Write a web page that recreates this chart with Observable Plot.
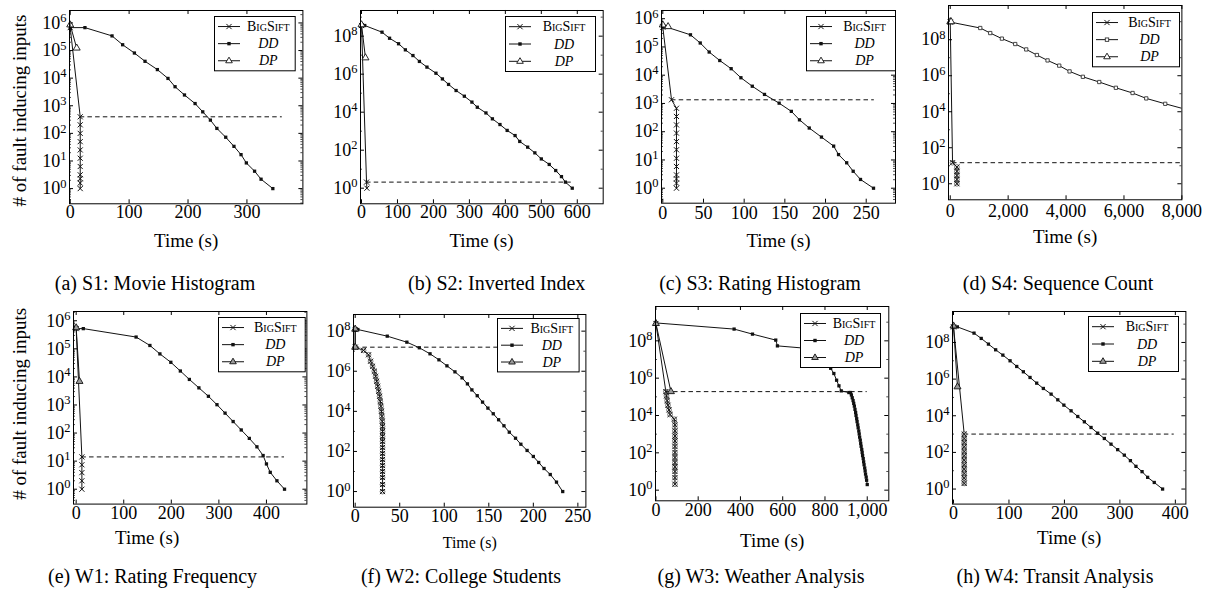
<!DOCTYPE html>
<html><head><meta charset="utf-8">
<script src="https://cdn.jsdelivr.net/npm/d3@7"></script>
<script src="https://cdn.jsdelivr.net/npm/@observablehq/plot@0.6"></script>
<style>
body{margin:0;background:#fff;}
#root{position:relative;width:1210px;height:598px;overflow:hidden;font-family:"Liberation Serif","Times New Roman","DejaVu Serif",serif;color:#000;background:#fff;}
.cap{position:absolute;transform:translate(-50%,-50%);white-space:nowrap;font-size:20px;line-height:1;}
</style></head><body><div id="root"></div>
<script>
// ---------- DATA (time in s, values as log10 of # fault inducing inputs) ----------
// (a) S1: Movie Histogram
const S1_DD_time = [0, 25, 71, 89, 109, 127, 148, 166, 178, 194, 212, 225, 238, 249, 264, 278, 290, 299, 313, 324, 344];
const S1_DD_log10 = [5.83, 5.83, 5.53, 5.21, 4.91, 4.61, 4.31, 3.99, 3.69, 3.39, 3.08, 2.78, 2.48, 2.18, 1.86, 1.53, 1.23, 0.93, 0.63, 0.34, 0.0];
const S1_BS_time = [0, 17, 17, 17, 17, 17, 17, 17, 17, 17, 17, 17];
const S1_BS_log10 = [5.83, 2.6, 2.31, 2.0, 1.7, 1.4, 1.1, 0.8, 0.5, 0.36, 0.2, 0.0];
const S1_DP_time = [0, 11];
const S1_DP_log10 = [5.93, 5.09];
const S1_REF = [17, 360, 2.6];

// (b) S2: Inverted Index
const S2_DD_time = [0, 9, 57, 78, 103, 122, 143, 161, 182, 207, 225, 242, 263, 286, 307, 322, 346, 364, 385, 405, 427, 440, 462, 482, 500, 522, 540, 556, 567, 586];
const S2_DD_log10 = [8.56, 8.56, 8.21, 7.89, 7.60, 7.28, 6.98, 6.67, 6.37, 6.05, 5.75, 5.46, 5.14, 4.84, 4.53, 4.26, 3.96, 3.65, 3.35, 3.04, 2.77, 2.46, 2.16, 1.86, 1.54, 1.25, 0.93, 0.61, 0.32, 0.0];
const S2_BS_time = [0, 14, 15];
const S2_BS_log10 = [8.56, 0.32, 0.0];
const S2_DP_time = [0, 11];
const S2_DP_log10 = [8.6, 6.86];
const S2_REF = [14, 584, 0.32];

// (c) S3: Rating Histogram
const S3_DD_time = [0, 5, 34, 46, 57, 70, 84, 96, 110, 125, 143, 158, 168, 180, 195, 210, 216, 226, 234, 243, 259];
const S3_DD_log10 = [5.70, 5.70, 5.43, 5.14, 4.82, 4.52, 4.23, 3.91, 3.61, 3.32, 3.01, 2.72, 2.42, 2.13, 1.81, 1.49, 1.19, 0.90, 0.60, 0.31, 0.0];
const S3_BS_time = [0, 10.7, 16.8, 16.8, 16.8, 16.8, 16.8, 16.8, 16.8, 16.8, 16.8, 16.8, 16.8, 16.8];
const S3_BS_log10 = [5.70, 3.13, 2.83, 2.54, 2.24, 1.95, 1.65, 1.36, 1.06, 0.77, 0.47, 0.33, 0.18, 0.0];
const S3_DP_time = [0, 6.5];
const S3_DP_log10 = [5.78, 5.72];
const S3_REF = [10.7, 260, 3.13];

// (d) S4: Sequence Count
const S4_DD_time = [0, 1036, 1381, 1784, 2244, 2624, 2993, 3361, 3764, 4121, 4581, 5146, 5721, 6297, 6769, 7425, 8300];
const S4_DD_log10 = [8.98, 8.65, 8.37, 8.06, 7.76, 7.46, 7.15, 6.85, 6.56, 6.24, 5.94, 5.65, 5.33, 5.04, 4.74, 4.44, 4.06];
const S4_BS_time = [0, 80, 230, 230, 230, 230, 230];
const S4_BS_log10 = [8.98, 1.17, 0.93, 0.69, 0.46, 0.24, 0.0];
const S4_DP_time = [0, 30];
const S4_DP_log10 = [9.0, 9.0];
const S4_REF = [80, 8000, 1.17];

// (e) W1: Rating Frequency
const W1_DD_time = [0, 15, 126, 155, 176, 199, 219, 238, 258, 278, 296, 313, 330, 347, 364, 380, 393, 400, 408, 422, 438];
const W1_DD_log10 = [5.72, 5.72, 5.42, 5.12, 4.82, 4.52, 4.21, 3.91, 3.61, 3.31, 3.01, 2.71, 2.41, 2.11, 1.81, 1.51, 1.20, 0.90, 0.60, 0.30, 0.0];
const W1_BS_time = [0, 12, 12, 12, 12, 12];
const W1_BS_log10 = [5.72, 1.15, 0.87, 0.59, 0.30, 0.0];
const W1_DP_time = [0, 7];
const W1_DP_log10 = [5.75, 3.84];
const W1_REF = [12, 438, 1.15];

// (f) W2: College Students
const W2_DD_time = [0, 3, 36, 58, 72, 84, 94, 103, 112, 120, 126, 131, 137, 143, 149, 155, 161, 167, 173, 180, 186, 193, 200, 206, 212, 219, 226, 233];
const W2_DD_log10 = [8.08, 8.08, 7.75, 7.45, 7.17, 6.87, 6.57, 6.27, 5.97, 5.67, 5.37, 5.07, 4.78, 4.46, 4.16, 3.88, 3.58, 3.28, 2.96, 2.66, 2.36, 2.05, 1.75, 1.45, 1.15, 0.85, 0.47, 0.0];
const W2_BS_time = [0, 0, 9.4, 15, 17.3, 19.5, 21.5, 22.9, 24.1, 25.3, 26.4, 27.4, 28.2, 28.9, 29.5, 30, 30.4, 30.7, 30.7, 30.7, 30.7, 30.7, 30.7, 30.7, 30.7, 30.7, 30.7, 30.7, 30.7];
const W2_BS_log10 = [8.08, 7.2, 7.04, 6.82, 6.5, 6.25, 6.0, 5.75, 5.5, 5.25, 5.0, 4.75, 4.5, 4.25, 4.0, 3.75, 3.5, 3.25, 3.0, 2.75, 2.5, 2.2, 1.9, 1.6, 1.3, 1.0, 0.7, 0.35, 0.0];
const W2_DP_time = [0, 0];
const W2_DP_log10 = [8.1, 7.2];
const W2_REF = [0, 251, 7.2];

// (g) W3: Weather Analysis
const W3_DD_time = [0, 370, 457, 567, 575, 690, 800, 827, 842, 855, 866, 877, 913, 921, 925, 929, 933, 936, 939, 942, 945, 947, 950, 952, 955, 957, 960, 962, 964, 967, 969, 971, 974, 976, 978, 981, 983, 985, 988, 990, 992, 995, 997, 1000];
const W3_DD_log10 = [8.96, 8.63, 8.36, 8.04, 7.73, 7.62, 7.2, 6.53, 6.25, 5.89, 5.59, 5.32, 5.23, 5.23, 5.1, 4.95, 4.8, 4.65, 4.5, 4.33, 4.16, 4.0, 3.83, 3.67, 3.5, 3.34, 3.17, 3.01, 2.84, 2.68, 2.51, 2.35, 2.18, 2.02, 1.85, 1.69, 1.52, 1.36, 1.19, 1.03, 0.86, 0.7, 0.53, 0.3];
const W3_BS_time = [0, 47, 50, 53, 57, 62, 67, 87, 90, 90, 90, 90, 90, 90, 90, 90, 90, 90, 90, 90];
const W3_BS_log10 = [8.93, 5.28, 5.05, 4.8, 4.55, 4.3, 4.05, 3.8, 3.5, 3.18, 2.9, 2.64, 2.34, 2.02, 1.75, 1.48, 1.25, 1.0, 0.67, 0.32];
const W3_DP_time = [0, 71];
const W3_DP_log10 = [8.93, 5.28];
const W3_REF = [47, 1000, 5.28];

// (h) W4: Transit Analysis
const W4_DD_time = [0, 7, 37, 50, 63, 76, 89, 102, 114, 126, 138, 150, 162, 176, 188, 199, 212, 224, 236, 248, 260, 272, 284, 296, 308, 319, 329, 340, 350, 362, 377];
const W4_DD_log10 = [8.85, 8.85, 8.51, 8.22, 7.91, 7.60, 7.31, 7.00, 6.69, 6.40, 6.09, 5.78, 5.49, 5.18, 4.87, 4.58, 4.27, 3.96, 3.67, 3.36, 3.05, 2.76, 2.45, 2.15, 1.85, 1.55, 1.24, 0.95, 0.64, 0.36, 0.0];
const W4_BS_time = [0, 19.3, 19.3, 19.3, 19.3, 19.3, 19.3, 19.3, 19.3, 19.3, 19.3, 19.3, 19.3];
const W4_BS_log10 = [8.85, 3.0, 2.76, 2.54, 2.31, 2.05, 1.82, 1.58, 1.33, 1.09, 0.85, 0.6, 0.31];
const W4_DP_time = [0, 7.2];
const W4_DP_log10 = [8.9, 5.58];
const W4_REF = [19.3, 398, 3.0];

// tick values
const TICKS_S1_X = [0, 100, 200, 300];
const TICKS_S2_X = [0, 100, 200, 300, 400, 500, 600];
const TICKS_S3_X = [0, 50, 100, 150, 200, 250];
const TICKS_S4_X = [0, 2000, 4000, 6000, 8000];
const TICKS_W1_X = [0, 100, 200, 300, 400];
const TICKS_W2_X = [0, 50, 100, 150, 200, 250];
const TICKS_W3_X = [0, 200, 400, 600, 800, 1000];
const TICKS_W4_X = [0, 100, 200, 300, 400];
const TICKS_Y_DEC = [0, 1, 2, 3, 4, 5, 6];
const TICKS_Y_EVEN = [0, 2, 4, 6, 8];

const SERIES_NAMES = ["BigSift", "DD", "DP"];
const Y_LABEL = "# of fault inducing inputs";
const X_LABEL = "Time (s)";
const CAPTIONS = ["(a) S1: Movie Histogram", "(b) S2: Inverted Index", "(c) S3: Rating Histogram", "(d) S4: Sequence Count",
  "(e) W1: Rating Frequency", "(f) W2: College Students", "(g) W3: Weather Analysis", "(h) W4: Transit Analysis"];

// ---------- LAYOUT ----------
const comma = d3.format(",");
const panels = [
  {dd:[S1_DD_time,S1_DD_log10], bs:[S1_BS_time,S1_BS_log10], dp:[S1_DP_time,S1_DP_log10], ref:S1_REF, xt:TICKS_S1_X, yt:TICKS_Y_DEC, ystep:1,
   box:[69.3,10,233.4,193.3], xDom:[-1.2,395], yDom:[-0.55,6.45], xpad:1, xl:[186,240,19], yl:[20,110], cap:[155,283], leg:[214.3,15.7,80.7,54.3]},
  {dd:[S2_DD_time,S2_DD_log10], bs:[S2_BS_time,S2_BS_log10], dp:[S2_DP_time,S2_DP_log10], ref:S2_REF, xt:TICKS_S2_X, yt:TICKS_Y_EVEN, ystep:2,
   box:[360,10,242.7,193.3], xDom:[-2.8,672], yDom:[-0.82,9.35], xpad:1, xl:[481,240,19], cap:[496.7,283], leg:[505,15.7,90,55]},
  {dd:[S3_DD_time,S3_DD_log10], bs:[S3_BS_time,S3_BS_log10], dp:[S3_DP_time,S3_DP_log10], ref:S3_REF, xt:TICKS_S3_X, yt:TICKS_Y_DEC, ystep:1,
   box:[661,10,234,192.7], xDom:[-1.6,286], yDom:[-0.53,6.29], xpad:3, xl:[778,240,19], cap:[760,283], leg:[806,15.7,89,54.3]},
  {dd:[S4_DD_time,S4_DD_log10], bs:[S4_BS_time,S4_BS_log10], dp:[S4_DP_time,S4_DP_log10], ref:S4_REF, xt:TICKS_S4_X, yt:TICKS_Y_EVEN, ystep:2,
   box:[948.3,5,233.4,194.3], xDom:[-60,8000], yDom:[-0.89,9.9], xpad:4, xfmt:comma, xl:[1065,236.7,19], cap:[1058,283], leg:[1092.3,11.7,87,54.3], ddHollow:true, ring:"none"},
  {dd:[W1_DD_time,W1_DD_log10], bs:[W1_BS_time,W1_BS_log10], dp:[W1_DP_time,W1_DP_log10], ref:W1_REF, xt:TICKS_W1_X, yt:TICKS_Y_DEC, ystep:1,
   box:[73.3,310.7,233.4,192.6], xDom:[-5.6,485], yDom:[-0.53,6.33], xpad:2, xl:[147,537,19], yl:[20,403], cap:[152.5,576], leg:[218.3,316.7,86.7,54.3], dpFill:"#9a9a9a"},
  {dd:[W2_DD_time,W2_DD_log10], bs:[W2_BS_time,W2_BS_log10], dp:[W2_DP_time,W2_DP_log10], ref:W2_REF, xt:TICKS_W2_X, yt:TICKS_Y_EVEN, ystep:2,
   box:[353.3,314,232.4,192.7], xDom:[-1.9,259], yDom:[-0.78,8.83], xpad:2, xl:[469.5,542.3,16], cap:[461,576], leg:[496.7,318.3,81.6,53.4], dpFill:"#9a9a9a", ring:"none"},
  {dd:[W3_DD_time,W3_DD_log10], bs:[W3_BS_time,W3_BS_log10], dp:[W3_DP_time,W3_DP_log10], ref:W3_REF, xt:TICKS_W3_X, yt:TICKS_Y_EVEN, ystep:2,
   box:[655,305.7,233.3,194.3], xDom:[-2,1102], yDom:[-0.57,9.84], xpad:2, xfmt:comma, xl:[771.7,540,19], cap:[761,576], leg:[800,312.7,80,54], dpFill:"#9a9a9a", ring:"none"},
  {dd:[W4_DD_time,W4_DD_log10], bs:[W4_BS_time,W4_BS_log10], dp:[W4_DP_time,W4_DP_log10], ref:W4_REF, xt:TICKS_W4_X, yt:TICKS_Y_EVEN, ystep:2,
   box:[952.3,310.7,233.4,192.6], xDom:[-1.8,419], yDom:[-0.82,9.69], xpad:2, xl:[1069,537,19], cap:[1055,576], leg:[1088.3,316,90,55], dpFill:"#9a9a9a", ring:"#c4c4c4"}
];

const NS = "http://www.w3.org/2000/svg";
const FONT = '"Liberation Serif","Times New Roman","DejaVu Serif",serif';
const root = document.getElementById("root");
const INK = "#111";
const timesSym = {draw(ctx, size) { const r = Math.sqrt(size / Math.PI) * 0.85; ctx.moveTo(-r, -r); ctx.lineTo(r, r); ctx.moveTo(-r, r); ctx.lineTo(r, -r); }};

function rows(pair) { return pair[0].map((t, i) => ({t, v: Math.pow(10, pair[1][i])})); }

function makePanel(p, idx) {
  const [L, T, W, H] = p.box;
  const ML = 62, MR = 4, MT = 6, MB = 52;
  const dd = rows(p.dd), bs = rows(p.bs), dp = rows(p.dp);
  const xMax = p.xDom[1];
  const [y0, y1] = p.yDom;
  const yMajor = p.yt.map(k => Math.pow(10, k));
  const minor = [];
  for (let k = Math.floor(y0); k <= Math.ceil(y1); k++) {
    if (p.ystep === 1) { for (let m = 2; m <= 9; m++) minor.push(m * Math.pow(10, k)); }
    else if (((k % 2) + 2) % 2 === 1) minor.push(Math.pow(10, k));
  }
  const yMinor = minor.filter(v => Math.log10(v) > y0 + 0.02 && Math.log10(v) < y1 - 0.02);
  const xlab = p.xl;
  const marks = [
    Plot.ruleY([p.ref], {y: d => Math.pow(10, d[2]), x1: d => d[0], x2: d => d[1], stroke: INK, strokeWidth: 1, strokeDasharray: "4.5,3.2"}),
    Plot.line(dd, {x: "t", y: "v", stroke: INK, strokeWidth: 1, clip: true}),
    Plot.dot(dd.filter(d => d.t <= xMax), {x: "t", y: "v", symbol: "square", r: 1.85,
      fill: p.ddHollow ? "white" : INK, stroke: p.ddHollow ? "#333" : "none", strokeWidth: 0.9}),
    Plot.line(bs, {x: "t", y: "v", stroke: INK, strokeWidth: 1}),
  ];
  if (p.ring) marks.push(Plot.dot(bs.slice(1), {x: "t", y: "v", symbol: "circle", r: 2.4, fill: p.ring, stroke: "#444", strokeWidth: 0.7}));
  marks.push(
    Plot.dot(bs, {x: "t", y: "v", symbol: timesSym, r: 3, fill: "none", stroke: INK, strokeWidth: 1}),
    Plot.line(dp, {x: "t", y: "v", stroke: INK, strokeWidth: 1}),
    Plot.dot(dp, {x: "t", y: "v", symbol: "triangle", r: 2.6, fill: p.dpFill || "white", stroke: INK, strokeWidth: 0.9}),
    Plot.frame({stroke: "black", strokeWidth: 1}),
    Plot.ruleX(p.xt, {x: d => d, insetTop: H - 4, stroke: "black"}),
    Plot.ruleX(p.xt, {x: d => d, insetBottom: H - 4, stroke: "black"}),
    Plot.ruleY(yMajor, {y: d => d, insetRight: W - 4, stroke: "black"}),
    Plot.ruleY(yMajor, {y: d => d, insetLeft: W - 4, stroke: "black"}),
    Plot.ruleY(yMinor, {y: d => d, insetRight: W - 2, stroke: "black", strokeWidth: 0.7}),
    Plot.ruleY(yMinor, {y: d => d, insetLeft: W - 2, stroke: "black", strokeWidth: 0.7}),
    Plot.axisX({ticks: p.xt, tickSize: 0, tickPadding: p.xpad, tickFormat: p.xfmt || (d => String(d)), label: null, fontSize: 18}),
    Plot.axisY({ticks: yMajor, tickSize: 0, tickPadding: 3, tickFormat: d => "10^" + Math.round(Math.log10(d)), label: null, fontSize: 18}),
    Plot.text([X_LABEL], {text: d => d, frameAnchor: "bottom", textAnchor: "middle", lineAnchor: "middle",
      dx: xlab[0] - (L + W / 2), dy: xlab[1] - (T + H), fontSize: xlab[2]})
  );
  if (p.yl) marks.push(Plot.text([Y_LABEL], {text: d => d, frameAnchor: "left", textAnchor: "middle", lineAnchor: "middle", rotate: -90,
    dx: p.yl[0] - L, dy: p.yl[1] - (T + H / 2), fontSize: 19}));

  const svg = Plot.plot({
    width: W + ML + MR, height: H + MT + MB,
    marginLeft: ML, marginRight: MR, marginTop: MT, marginBottom: MB,
    x: {domain: p.xDom, label: null},
    y: {type: "log", domain: [Math.pow(10, y0), Math.pow(10, y1)], label: null},
    style: {fontFamily: FONT, fontSize: "18px", color: "black", background: "transparent", overflow: "visible"},
    marks
  });
  svg.querySelectorAll("text").forEach(t => {
    const m = t.textContent.match(/^10\^(\d+)$/);
    if (m) {
      t.textContent = "10";
      const ts = document.createElementNS(NS, "tspan");
      ts.setAttribute("dy", "-0.52em");
      ts.setAttribute("font-size", "12.5px");
      ts.textContent = m[1];
      t.appendChild(ts);
    }
  });
  Object.assign(svg.style, {position: "absolute", left: (L - ML) + "px", top: (T - MT) + "px", background: "transparent", overflow: "visible", maxWidth: "none", fontFamily: FONT});
  root.appendChild(svg);

  makeLegend(p);
  const c = document.createElement("div");
  c.className = "cap";
  c.textContent = CAPTIONS[idx];
  c.style.left = p.cap[0] + "px";
  c.style.top = p.cap[1] + "px";
  root.appendChild(c);
}

function el(name, attrs, parent) {
  const e = document.createElementNS(NS, name);
  for (const k in attrs) e.setAttribute(k, attrs[k]);
  if (parent) parent.appendChild(e);
  return e;
}

function makeLegend(p) {
  const [L, T, w, h] = p.leg;
  const s = el("svg", {width: w + 1, height: h + 1});
  Object.assign(s.style, {position: "absolute", left: L + "px", top: T + "px", overflow: "visible"});
  el("rect", {x: 0.5, y: 0.5, width: w, height: h, fill: "white", stroke: "black", "stroke-width": 1}, s);
  const ys = [0.185, 0.5, 0.815].map(f => f * h + 0.5);
  const cx = 15, tx = (26 + w) / 2 + 1;
  ys.forEach((y, i) => {
    el("line", {x1: 4, x2: 26, y1: y, y2: y, stroke: INK, "stroke-width": 1}, s);
    if (i === 0) {
      el("path", {d: `M${cx-2.6},${y-2.6}L${cx+2.6},${y+2.6}M${cx-2.6},${y+2.6}L${cx+2.6},${y-2.6}`, stroke: INK, "stroke-width": 1, fill: "none"}, s);
    } else if (i === 1) {
      el("rect", {x: cx - 1.7, y: y - 1.7, width: 3.4, height: 3.4, fill: p.ddHollow ? "white" : INK, stroke: p.ddHollow ? "#333" : "none", "stroke-width": 0.9}, s);
    } else {
      el("path", {d: `M${cx},${y-3.6}L${cx+3.3},${y+2}L${cx-3.3},${y+2}Z`, fill: p.dpFill || "white", stroke: INK, "stroke-width": 0.9}, s);
    }
    const t = el("text", {x: tx, y: y, "text-anchor": "middle", "dominant-baseline": "central",
      "font-size": 14, "font-family": FONT}, s);
    if (i === 0) t.setAttribute("font-variant", "small-caps"); else t.setAttribute("font-style", "italic");
    t.textContent = SERIES_NAMES[i];
  });
  root.appendChild(s);
}

panels.forEach(makePanel);
</script></body></html>
